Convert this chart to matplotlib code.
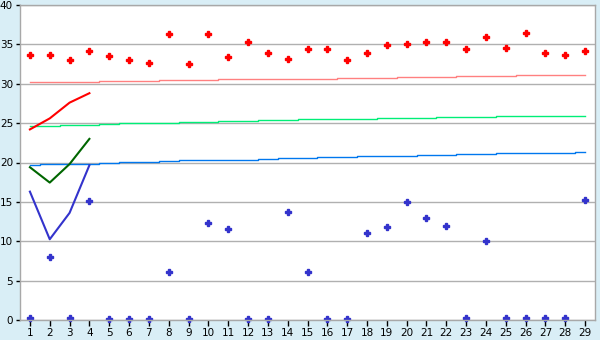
#!/usr/bin/env python3

import numpy as np
import matplotlib
matplotlib.use("Agg")
import matplotlib.pyplot as plt

# categories 1..29
cats = list(range(1, 30))

# scatter series
red_pts = [33.6, 33.6, 33.0, 34.1, 33.5, 33.0, 32.6, 36.3, 32.5, 36.3,
           33.4, 35.3, 33.9, 33.1, 34.4, 34.4, 33.0, 33.9, 34.9, 35.0,
           35.3, 35.3, 34.4, 35.9, 34.6, 36.4, 33.9, 33.7, 34.2]
blue_pts = [0.25, 8.0, 0.25, 15.1, 0.1, 0.1, 0.1, 6.1, 0.1, 12.3,
            11.5, 0.15, 0.15, 13.7, 6.1, 0.15, 0.15, 11.0, 11.8, 15.0,
            13.0, 12.0, 0.2, 10.0, 0.2, 0.2, 0.2, 0.2, 15.3]

# slowly rising level lines
pink_lvl = [30.18, 30.18, 30.18, 30.18, 30.31, 30.31, 30.31, 30.44, 30.44, 30.44,
            30.56, 30.56, 30.56, 30.56, 30.56, 30.56, 30.69, 30.69, 30.69, 30.82,
            30.82, 30.82, 30.94, 30.94, 30.94, 31.07, 31.07, 31.07, 31.07]
green_lvl = [24.59, 24.59, 24.72, 24.72, 24.85, 24.97, 24.97, 24.97, 25.10, 25.10,
             25.23, 25.23, 25.35, 25.35, 25.48, 25.48, 25.48, 25.48, 25.60, 25.60,
             25.60, 25.73, 25.73, 25.73, 25.87, 25.87, 25.87, 25.87, 25.87]
blue_lvl = [19.64, 19.77, 19.77, 19.77, 19.90, 20.03, 20.03, 20.15, 20.28, 20.28,
            20.28, 20.28, 20.41, 20.53, 20.53, 20.66, 20.66, 20.79, 20.79, 20.79,
            20.91, 20.91, 21.04, 21.04, 21.17, 21.17, 21.17, 21.17, 21.29]

# short lines over first four categories
line_x = [1, 2, 3, 4]
red_line = [24.2, 25.6, 27.6, 28.8]
green_line = [19.4, 17.45, 19.8, 23.0]
blue_line = [16.3, 10.25, 13.6, 19.65]

fig = plt.figure(figsize=(6, 3.4), dpi=100)
fig.patch.set_facecolor("#d9eef6")
ax = fig.add_axes([20 / 600, 20 / 340, 575 / 600, 315 / 340])
ax.set_facecolor("white")

ax.set_xlim(0.5, 29.5)
ax.set_ylim(0, 40)
ax.set_yticks(np.arange(0, 41, 5))
ax.set_xticks(cats)
ax.yaxis.grid(True, color="#b0b0b0", lw=1)
ax.set_axisbelow(True)

for s in ax.spines.values():
    s.set_color("#a8a8a8")
    s.set_linewidth(1)

ax.tick_params(axis="both", colors="black", labelsize=7.5, length=4, width=1, pad=2)
ax.tick_params(axis="y", length=3)

ax.plot(cats, pink_lvl, color="#ff8080", lw=1, drawstyle="steps-mid")
ax.plot(cats, green_lvl, color="#00ee77", lw=1, drawstyle="steps-mid")
ax.plot(cats, blue_lvl, color="#0077ee", lw=1, drawstyle="steps-mid")

ax.plot(line_x, red_line, color="#ff0000", lw=1.5)
ax.plot(line_x, green_line, color="#006600", lw=1.5)
ax.plot(line_x, blue_line, color="#3333cc", lw=1.5)

ax.plot(cats, red_pts, ls="none", marker="P", ms=4, color="#ff0000", clip_on=False)
ax.plot(cats, blue_pts, ls="none", marker="P", ms=4, color="#3333cc", clip_on=False)

plt.savefig("out.png", dpi=100, facecolor=fig.get_facecolor())
plt.close()
